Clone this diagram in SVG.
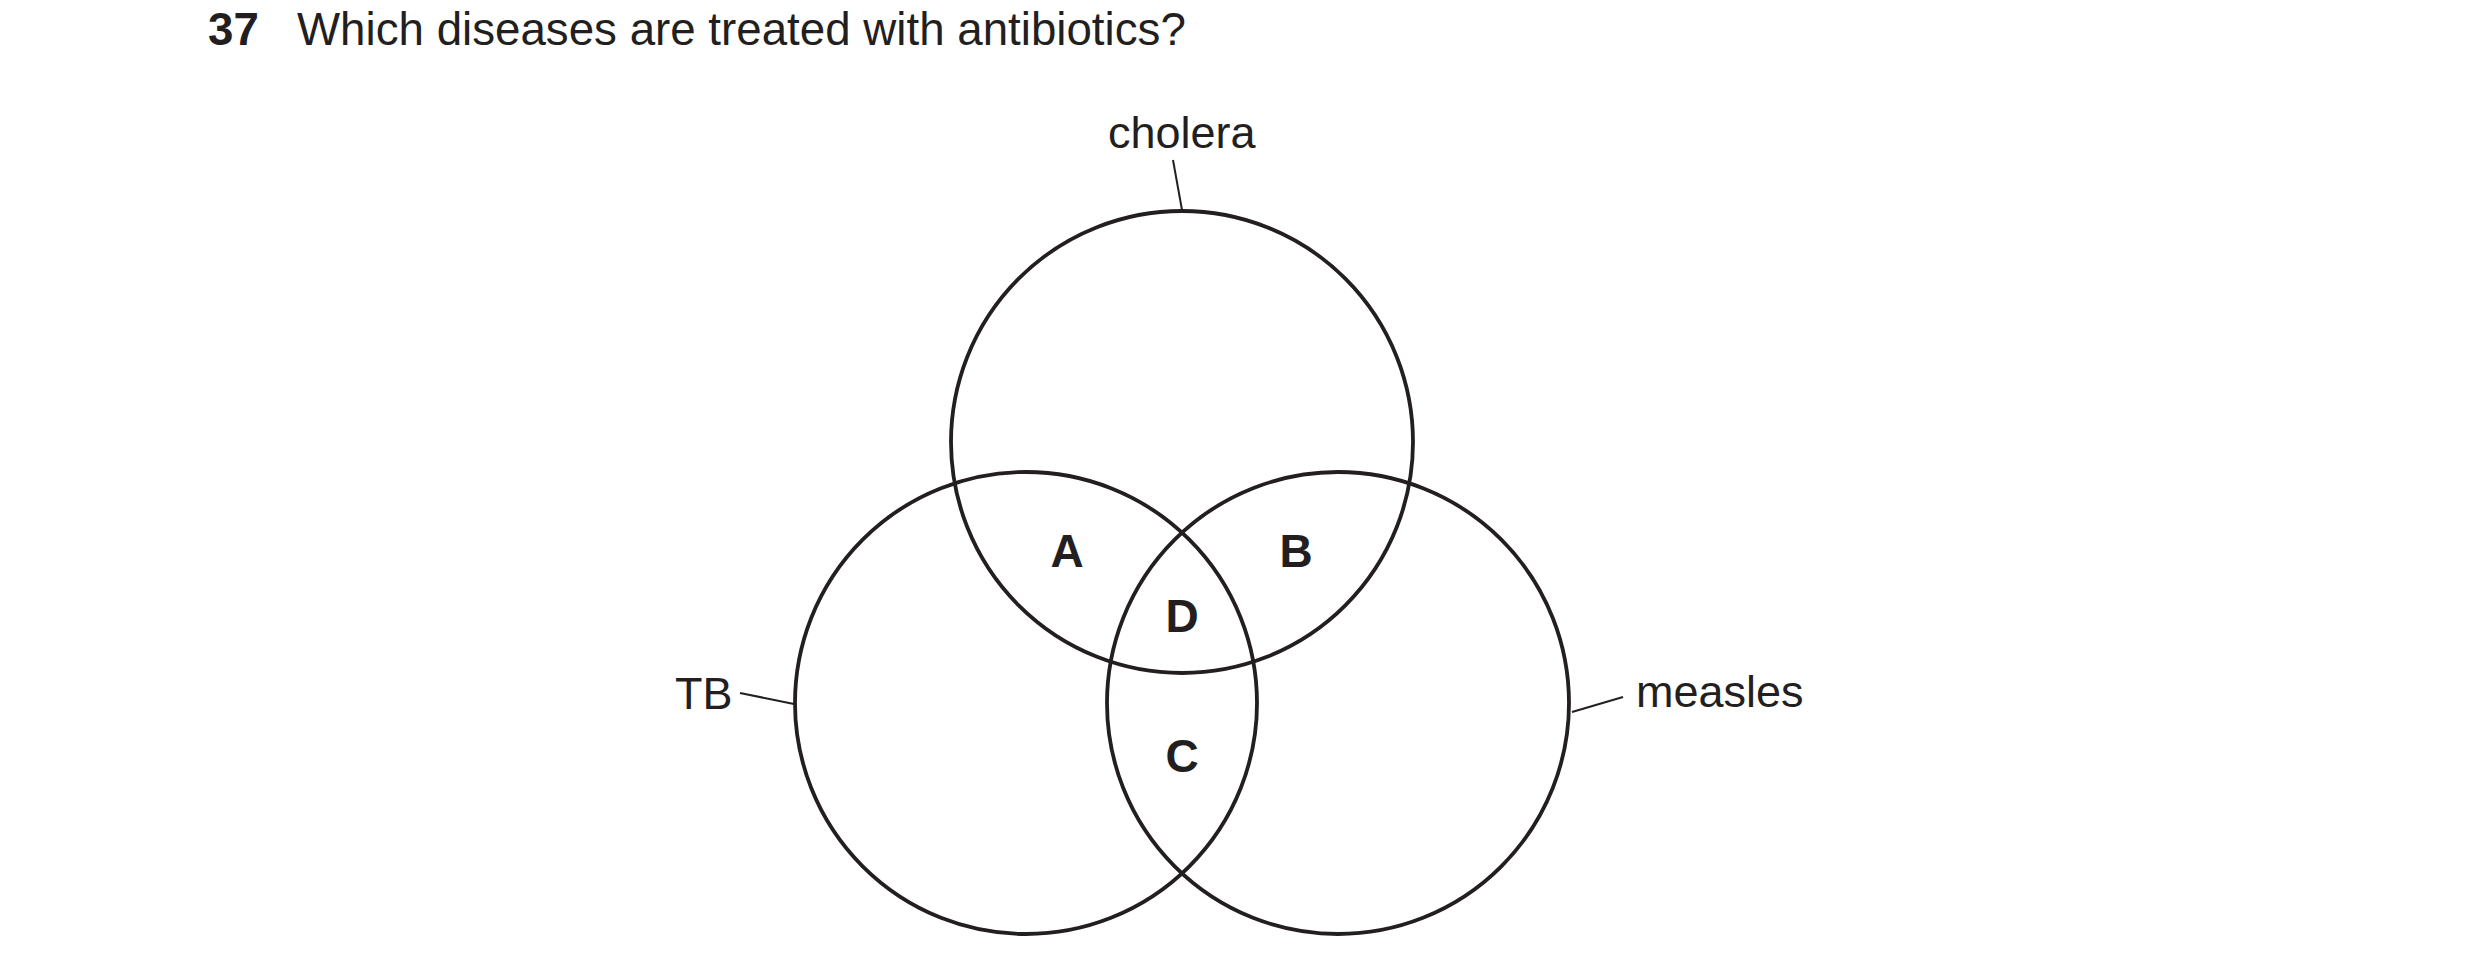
<svg xmlns="http://www.w3.org/2000/svg" width="2480" height="977" viewBox="0 0 2480 977">
<style>
.t{font-family:"Liberation Sans",Arial,sans-serif;fill:#231f20}
.lbl{font-size:45px}
.reg{font-size:46px;font-weight:bold;text-anchor:middle}
.c{fill:none;stroke:#231f20;stroke-width:3.8}
.ld{stroke:#231f20;stroke-width:2;fill:none}
</style>
<rect width="2480" height="977" fill="#ffffff"/>
<g id="title">
<text class="t" x="208" y="45" font-size="45.7" font-weight="bold" fill="#000">37</text>
<text class="t" x="297" y="45" font-size="45.7" fill="#000">Which diseases are treated with antibiotics?</text>
</g>
<g id="cholera">
<circle class="c" cx="1182" cy="442" r="231"/>
<text class="t lbl" x="1108" y="148">cholera</text>
</g>
<g id="tb">
<circle class="c" cx="1026" cy="703" r="231"/>
<text class="t lbl" x="675" y="709">TB</text>
</g>
<g id="measles">
<circle class="c" cx="1338" cy="703" r="231"/>
<text class="t lbl" x="1636" y="707">measles</text>
</g>
<g id="regions">
<text class="t reg" x="1067" y="567">A</text>
<text class="t reg" x="1296" y="567">B</text>
<text class="t reg" x="1182" y="632">D</text>
<text class="t reg" x="1182" y="772">C</text>
</g>
<g id="connectors">
<line class="ld" x1="1173" y1="160" x2="1182" y2="210"/>
<line class="ld" x1="740" y1="693" x2="794" y2="704"/>
<line class="ld" x1="1572" y1="712" x2="1623" y2="697"/>
</g>
</svg>
